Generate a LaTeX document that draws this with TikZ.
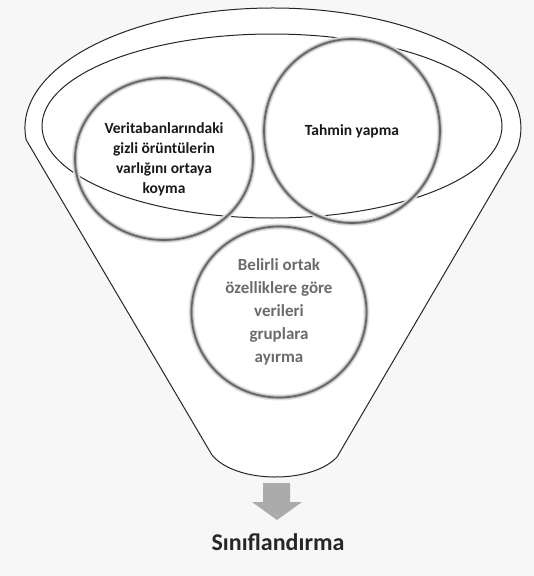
\documentclass[tikz,border=0pt]{standalone}
\usepackage{fontspec}
\setmainfont{Carlito}
\usetikzlibrary{shapes.geometric}

\tikzset{
  funnelline/.style={draw=black!85, line width=1pt},
  softring/.style={ellipse, inner sep=0pt, align=center,
    postaction={draw=black!10, line width=6pt},
    postaction={draw=black!28, line width=3.6pt},
    postaction={draw=black!60, line width=1.7pt}},
  darktext/.style={font=\bfseries\fontsize{15.5}{20}\selectfont, text=black!90},
  greytext/.style={font=\bfseries\fontsize{17}{23}\selectfont, text=black!58},
}

\begin{document}
\begin{tikzpicture}[x=1pt, y=1pt]
  % page
  \fill[black!3] (0,0) rectangle (534,-576);
  \useasboundingbox (0,0) rectangle (534,-576);

  % funnel outline: elliptical rim, two straight walls, rounded spout
  \coordinate (lk) at (26.2,-139.9);
  \coordinate (rk) at (516.8,-150.1);
  \coordinate (lb) at (212,-455);
  \coordinate (rb) at (337,-457);
  \path[funnelline, fill=white]
    (lb) -- (lk)
    arc[start angle=185.7, end angle=-10.6, x radius=248, y radius=120]
    -- (rb) .. controls (312,-484) and (236,-484) .. (lb) -- cycle;

  % inner rim
  \draw[funnelline] (272,-126) ellipse[x radius=230, y radius=92];

  % the three themes
  \node[softring, darktext, minimum width=178pt, minimum height=162pt]
    (hidden) at (164,-159)
    {Veritabanlarındaki\\gizli örüntülerin\\varlığını ortaya\\koyma};
  \node[softring, darktext, minimum width=176pt, minimum height=184pt]
    (predict) at (352,-131) {Tahmin yapma};
  \node[softring, greytext, minimum width=175pt, minimum height=171pt]
    (group) at (279,-312)
    {Belirli ortak\\özelliklere göre\\verileri\\gruplara\\ayırma};

  % output arrow and result
  \coordinate (at) at (263,-483);
  \fill[black!33] (at) -- (290,-483) -- (290,-502) -- (302,-502)
    -- (277,-520) -- (252,-502) -- (263,-502) -- cycle;
  \node[font=\bfseries\fontsize{24}{26}\selectfont, text=black!85]
    (result) at (278,-542) {Sınıflandırma};
\end{tikzpicture}
\end{document}
